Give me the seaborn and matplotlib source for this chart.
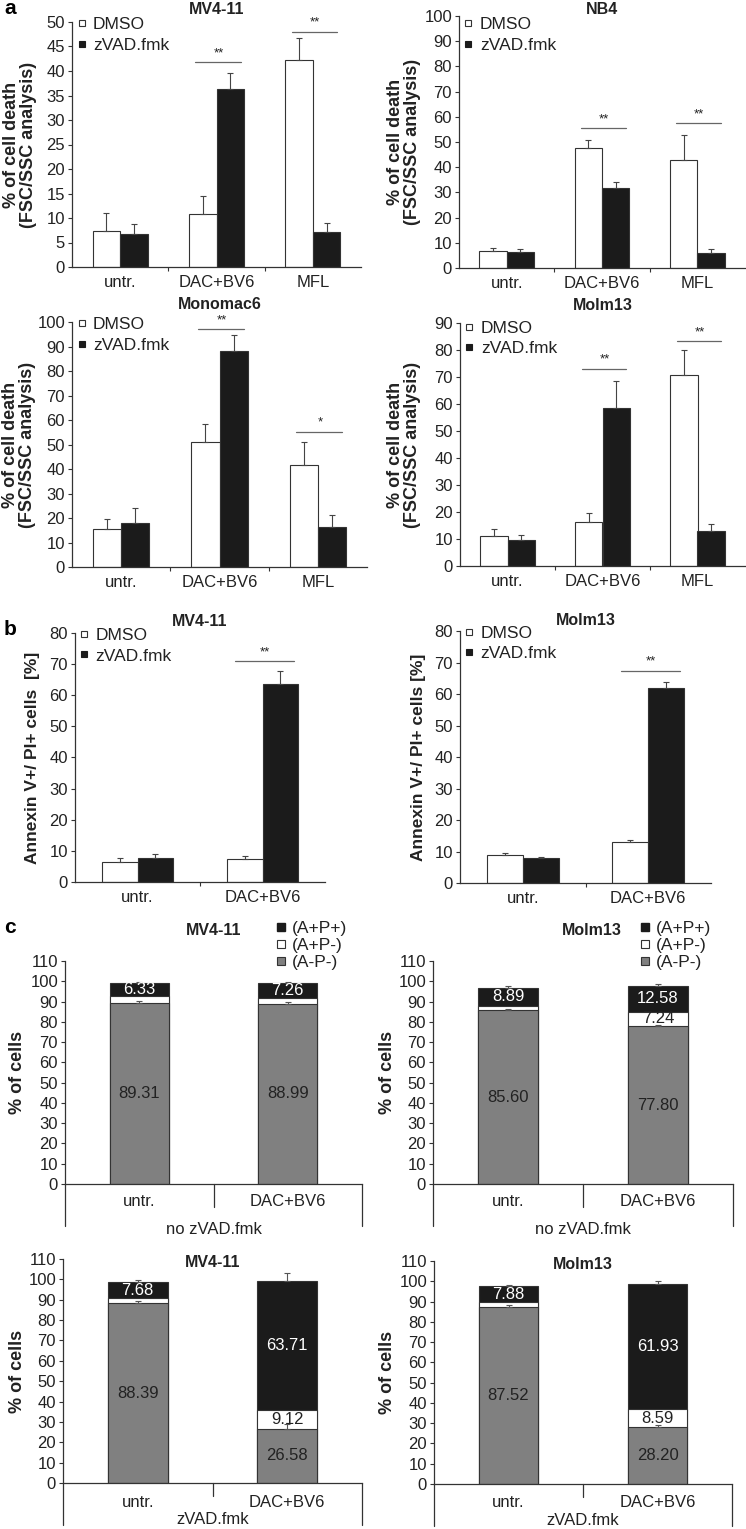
import numpy as np
import pandas as pd
import matplotlib
matplotlib.use('Agg')
import matplotlib.pyplot as plt
import matplotlib.transforms as mtransforms
from matplotlib.lines import Line2D
import seaborn as sns

sns.set_style('ticks')
plt.rcParams['font.family'] = ['Liberation Sans', 'DejaVu Sans']

# ---------------- data ----------------
groups_a = ['untr.', 'DAC+BV6', 'MFL']
groups_b = ['untr.', 'DAC+BV6']
treatments = ['DMSO', 'zVAD.fmk']

# panel a: % of cell death (FSC/SSC), mean and upper SD
mv411_a_dmso = [7.4, 10.9, 42.3]
mv411_a_dmso_err = [3.6, 3.6, 4.4]
mv411_a_zvad = [6.8, 36.4, 7.1]
mv411_a_zvad_err = [2.0, 3.2, 1.9]
mv411_a_sig = [None, 41.8, 48.0]
mv411_a_stars = ['', '**', '**']

nb4_a_dmso = [6.7, 47.6, 43.0]
nb4_a_dmso_err = [1.3, 3.3, 9.6]
nb4_a_zvad = [6.2, 31.6, 5.9]
nb4_a_zvad_err = [1.3, 2.4, 1.6]
nb4_a_sig = [None, 55.4, 57.4]
nb4_a_stars = ['', '**', '**']

mono_a_dmso = [15.4, 51.2, 41.8]
mono_a_dmso_err = [4.2, 7.0, 9.3]
mono_a_zvad = [17.8, 88.0, 16.3]
mono_a_zvad_err = [6.2, 6.6, 4.8]
mono_a_sig = [None, 97.0, 55.3]
mono_a_stars = ['', '**', '*']

molm_a_dmso = [11.2, 16.2, 70.7]
molm_a_dmso_err = [2.5, 3.5, 9.2]
molm_a_zvad = [9.6, 58.7, 12.8]
molm_a_zvad_err = [1.9, 9.7, 2.6]
molm_a_sig = [None, 73.1, 83.2]
molm_a_stars = ['', '**', '**']

# panel b: Annexin V+/PI+ cells [%]
mv411_b_dmso = [6.5, 7.5]
mv411_b_dmso_err = [1.3, 0.9]
mv411_b_zvad = [7.6, 63.7]
mv411_b_zvad_err = [1.3, 4.0]
mv411_b_sig = [None, 70.9]

molm_b_dmso = [8.9, 12.9]
molm_b_dmso_err = [0.6, 0.8]
molm_b_zvad = [7.9, 61.9]
molm_b_zvad_err = [0.5, 2.0]
molm_b_sig = [None, 67.4]

# panel c: % of cells, (A-P-), (A+P-), (A+P+)
layers = ['(A+P+)', '(A+P-)', '(A-P-)']
mv411_no_neg = [89.31, 88.99]
mv411_no_apm = [3.4, 2.9]
mv411_no_app = [6.33, 7.26]
mv411_no_err_neg = [0.8, 0.8]
mv411_no_err_top = [0.6, 0.5]

molm_no_neg = [85.60, 77.80]
molm_no_apm = [2.4, 7.24]
molm_no_app = [8.89, 12.58]
molm_no_err_neg = [0.6, 0.6]
molm_no_err_top = [0.8, 0.8]

mv411_z_neg = [88.39, 26.58]
mv411_z_apm = [2.5, 9.12]
mv411_z_app = [7.68, 63.71]
mv411_z_err_neg = [1.0, 2.5]
mv411_z_err_top = [1.2, 3.8]

molm_z_neg = [87.52, 28.20]
molm_z_apm = [2.1, 8.59]
molm_z_app = [7.88, 61.93]
molm_z_err_neg = [0.6, 1.0]
molm_z_err_top = [0.5, 1.5]

# ---------------- style ----------------
BLACK = '#1b1b1b'
GRAY = '#808080'
EDGE = '#333333'
TXT = '#222222'
FS = 12
W, H = 746, 1529

fig = plt.figure(figsize=(W / 100, H / 100), dpi=100)


def make_axes(left, right, top, bottom):
    return fig.add_axes([left / W, 1 - bottom / H, (right - left) / W, (bottom - top) / H])


def style_axes(ax, ymax, ystep):
    ax.set_ylim(0, ymax)
    ax.set_yticks(np.arange(0, ymax + 0.1, ystep))
    ax.tick_params(axis='y', direction='out', length=3, width=0.8, colors=EDGE,
                   labelsize=FS, labelcolor=TXT, pad=2)
    for s in ['left', 'bottom']:
        ax.spines[s].set_color(EDGE)
        ax.spines[s].set_linewidth(0.9)
    sns.despine(ax=ax)
    ax.set_xlabel('')


def label_x(ax, px):
    # y label right edge at a given pixel column
    bb = ax.get_position()
    return (px - bb.x0 * W) / (bb.width * W)


def grouped_panel(ax, groups, dmso, dmso_err, zvad, zvad_err, sig_y, stars,
                  ymax, ystep, title, title_dy, ylabel, ylabel_px, ylabel_fs, leg_y):
    df = pd.DataFrame({
        'group': groups * 2,
        'treatment': ['DMSO'] * len(groups) + ['zVAD.fmk'] * len(groups),
        'value': dmso + zvad,
    })
    sns.barplot(data=df, x='group', y='value', hue='treatment', order=groups,
                hue_order=treatments, palette={'DMSO': 'white', 'zVAD.fmk': BLACK},
                width=0.57, gap=0, saturation=1, edgecolor=EDGE, linewidth=0.8,
                errorbar=None, legend=False, ax=ax)
    for cont, means, errs in zip(ax.containers, [dmso, zvad], [dmso_err, zvad_err]):
        xs = [b.get_x() + b.get_width() / 2 for b in cont]
        ax.errorbar(xs, means, yerr=[np.zeros(len(errs)), errs], fmt='none',
                    ecolor='#444444', elinewidth=0.8, capsize=2.5, capthick=0.8, zorder=3)
    for i, (y, s) in enumerate(zip(sig_y, stars)):
        if y is None:
            continue
        ax.plot([i - 0.22, i + 0.25], [y, y], color='#666666', lw=0.9, clip_on=False)
        ax.text(i + 0.02, y + ymax * 0.012, s, ha='center', va='bottom',
                fontsize=9.5, color=TXT, clip_on=False)
    ax.set_xlim(-0.5, len(groups) - 0.5)
    style_axes(ax, ymax, ystep)
    ax.tick_params(axis='x', which='major', length=0, labelsize=FS, labelcolor=TXT, pad=6)
    ax.set_xticks(np.arange(len(groups) - 1) + 0.5, minor=True)
    ax.tick_params(axis='x', which='minor', direction='out', length=3, width=0.8, colors=EDGE)
    ax.set_ylabel(ylabel, fontsize=ylabel_fs, fontweight='bold', color=TXT, linespacing=1.0)
    ax.yaxis.set_label_coords(label_x(ax, ylabel_px), 0.5)
    ax.text(0.5, 1 + title_dy, title, transform=ax.transAxes, ha='center', va='center',
            fontsize=11.5, fontweight='bold', color=TXT)
    handles = [Line2D([], [], marker='s', ls='none', markersize=5, mfc='white', mec=EDGE, mew=0.8),
               Line2D([], [], marker='s', ls='none', markersize=5, mfc=BLACK, mec=BLACK, mew=0.8)]
    ax.legend(handles, treatments, loc='upper left', bbox_to_anchor=(0.015, leg_y),
              frameon=False, handlelength=0.6, handletextpad=0.35, labelspacing=0.3,
              borderaxespad=0, borderpad=0, fontsize=12.5, labelcolor=TXT)


def stacked_panel(ax, neg, apm, app, err_neg, err_top, title, title_y, footer,
                  lab_y, mid_y, outer_y, foot_y, ylabel_px, legend):
    neg = np.array(neg)
    apm = np.array(apm)
    app = np.array(app)
    mid = neg + apm
    total = mid + app
    for heights, col in [(total, BLACK), (mid, 'white'), (neg, GRAY)]:
        sns.barplot(x=groups_b, y=heights, color=col, width=0.4, saturation=1,
                    edgecolor=EDGE, linewidth=0.8, errorbar=None, ax=ax)
    xs = [b.get_x() + b.get_width() / 2 for b in ax.containers[-1]]
    for base, errs in [(neg, err_neg), (total, err_top)]:
        ax.errorbar(xs, base, yerr=[np.zeros(len(errs)), errs], fmt='none',
                    ecolor='#555555', elinewidth=0.8, capsize=2, capthick=0.8, zorder=3)
    for x, n, a, p in zip(xs, neg, apm, app):
        ax.text(x, n / 2, f'{n:.2f}', ha='center', va='center', fontsize=FS, color=TXT)
        if a > 5:
            ax.text(x, n + a / 2, f'{a:.2f}', ha='center', va='center', fontsize=FS, color=TXT)
        ax.text(x, n + a + p / 2, f'{p:.2f}', ha='center', va='center', fontsize=FS, color='white')
    ax.set_xlim(-0.5, 1.5)
    style_axes(ax, 110, 10)
    ax.set_xticks([])
    ax.set_ylabel('% of cells', fontsize=13, fontweight='bold', color=TXT)
    ax.yaxis.set_label_coords(label_x(ax, ylabel_px), 0.5)
    # category table under the axis
    tr = mtransforms.blended_transform_factory(ax.transData, ax.transAxes)
    for x in [-0.5, 1.5]:
        ax.plot([x, x], [0, outer_y], transform=tr, color=EDGE, lw=0.9, clip_on=False)
    ax.plot([0.5, 0.5], [0, mid_y], transform=tr, color=EDGE, lw=0.9, clip_on=False)
    for i, g in enumerate(groups_b):
        ax.text(i, lab_y, g, transform=tr, ha='center', va='center', fontsize=FS, color=TXT)
    ax.text(0.5, foot_y, footer, transform=tr, ha='center', va='center', fontsize=FS, color=TXT)
    ax.text(legend[0] if legend else 0.5, title_y, title, transform=ax.transAxes,
            ha='center', va='center', fontsize=11.5, fontweight='bold', color=TXT)
    if legend:
        handles = [Line2D([], [], marker='s', ls='none', markersize=5.5, mfc=BLACK, mec=BLACK),
                   Line2D([], [], marker='s', ls='none', markersize=5.5, mfc='white', mec=EDGE, mew=0.8),
                   Line2D([], [], marker='s', ls='none', markersize=5.5, mfc=GRAY, mec=EDGE, mew=0.8)]
        ax.legend(handles, layers, loc='upper left', bbox_to_anchor=(legend[1], legend[2]),
                  frameon=False, handlelength=0.6, handletextpad=0.3, labelspacing=0.1,
                  borderaxespad=0, borderpad=0, fontsize=12.5, labelcolor=TXT)


# ---------------- panel a ----------------
ax = make_axes(72, 361, 22, 267)
grouped_panel(ax, groups_a, mv411_a_dmso, mv411_a_dmso_err, mv411_a_zvad, mv411_a_zvad_err,
              mv411_a_sig, mv411_a_stars, 50, 5, 'MV4-11', 0.05,
              '% of cell death\n(FSC/SSC analysis)', 37, 13, 1.02)
ax = make_axes(459, 745, 16, 268)
grouped_panel(ax, groups_a, nb4_a_dmso, nb4_a_dmso_err, nb4_a_zvad, nb4_a_zvad_err,
              nb4_a_sig, nb4_a_stars, 100, 10, 'NB4', 0.025,
              '% of cell death\n(FSC/SSC analysis)', 421, 13, 0.995)
ax = make_axes(72, 367, 322, 567)
grouped_panel(ax, groups_a, mono_a_dmso, mono_a_dmso_err, mono_a_zvad, mono_a_zvad_err,
              mono_a_sig, mono_a_stars, 100, 10, 'Monomac6', 0.07,
              '% of cell death\n(FSC/SSC analysis)', 36, 13, 1.02)
ax = make_axes(460, 745, 323, 566)
grouped_panel(ax, groups_a, molm_a_dmso, molm_a_dmso_err, molm_a_zvad, molm_a_zvad_err,
              molm_a_sig, molm_a_stars, 90, 10, 'Molm13', 0.07,
              '% of cell death\n(FSC/SSC analysis)', 421, 13, 1.01)

# ---------------- panel b ----------------
ax = make_axes(75, 325, 633, 882)
grouped_panel(ax, groups_b, mv411_b_dmso, mv411_b_dmso_err, mv411_b_zvad, mv411_b_zvad_err,
              mv411_b_sig, ['', '**'], 80, 10, 'MV4-11', 0.045,
              'Annexin V+/ PI+ cells  [%]', 40, 12.5, 1.02)
ax = make_axes(460, 711, 631, 883)
grouped_panel(ax, groups_b, molm_b_dmso, molm_b_dmso_err, molm_b_zvad, molm_b_zvad_err,
              molm_b_sig, ['', '**'], 80, 10, 'Molm13', 0.04,
              'Annexin V+/ PI+ cells [%]', 426, 12.5, 1.02)

# ---------------- panel c ----------------
ax = make_axes(65, 362, 961, 1184)
stacked_panel(ax, mv411_no_neg, mv411_no_apm, mv411_no_app, mv411_no_err_neg, mv411_no_err_top,
              'MV4-11', 1.135, 'no zVAD.fmk', -0.08, -0.103, -0.19, -0.205, 26, (0.5, 0.71, 1.18))
ax = make_axes(433, 733, 961, 1184)
stacked_panel(ax, molm_no_neg, molm_no_apm, molm_no_app, molm_no_err_neg, molm_no_err_top,
              'Molm13', 1.135, 'no zVAD.fmk', -0.08, -0.103, -0.19, -0.205, 396, (0.53, 0.69, 1.18))
ax = make_axes(63, 362, 1259, 1483)
stacked_panel(ax, mv411_z_neg, mv411_z_apm, mv411_z_app, mv411_z_err_neg, mv411_z_err_top,
              'MV4-11', 0.985, 'zVAD.fmk', -0.085, -0.058, -0.1875, -0.165, 26, None)
ax = make_axes(434, 732, 1261, 1484)
stacked_panel(ax, molm_z_neg, molm_z_apm, molm_z_app, molm_z_err_neg, molm_z_err_top,
              'Molm13', 0.985, 'zVAD.fmk', -0.085, -0.058, -0.1875, -0.165, 396, None)

# panel letters
fig.text(4 / W, 1 - 8 / H, 'a', fontsize=15, fontweight='bold', va='center', color='black')
fig.text(4 / W, 1 - 630 / H, 'b', fontsize=15, fontweight='bold', va='center', color='black')
fig.text(4 / W, 1 - 928 / H, 'c', fontsize=15, fontweight='bold', va='center', color='black')

fig.savefig('out.png', dpi=100)
